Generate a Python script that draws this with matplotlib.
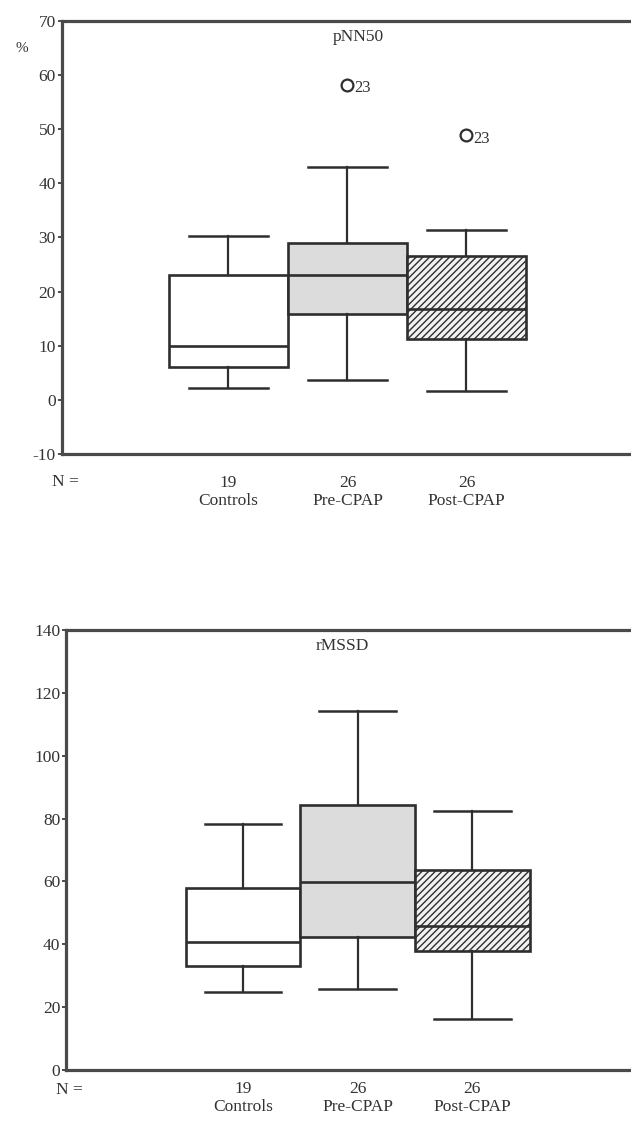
import matplotlib
matplotlib.use("Agg")
import matplotlib.pyplot as plt

plt.rcParams['font.family'] = ['Liberation Serif', 'DejaVu Serif']
plt.rcParams['hatch.color'] = '#7a7a7a'
plt.rcParams['hatch.linewidth'] = 1.0

groups = ["Controls", "Pre-CPAP", "Post-CPAP"]
counts = [19, 26, 26]

# pNN50 (%) : whisker low, Q1, median, Q3, whisker high
pnn50_whislo = [2.2, 3.6, 1.6]
pnn50_q1 = [6.0, 15.9, 11.2]
pnn50_med = [10.0, 23.1, 16.7]
pnn50_q3 = [23.1, 28.9, 26.5]
pnn50_whishi = [30.3, 43.0, 31.4]
pnn50_outliers = [[], [58.2], [48.9]]
pnn50_outlier_ids = [[], ["23"], ["23"]]

# rMSSD
rmssd_whislo = [24.9, 25.7, 16.2]
rmssd_q1 = [33.2, 42.4, 37.9]
rmssd_med = [40.8, 59.7, 45.9]
rmssd_q3 = [57.8, 84.3, 63.6]
rmssd_whishi = [78.3, 114.2, 82.4]
rmssd_outliers = [[], [], []]
rmssd_outlier_ids = [[], [], []]

fills = ['white', '#dcdcdc', '#f2f2f2']
hatches = [None, None, '/////']

W, H = 631, 1122
fig = plt.figure(figsize=(W / 100, H / 100), dpi=100)

edge = '#2e2e2e'
txt = '#333333'


def panel(rect, xlim, ylim, yticks, wl, q1, med, q3, wh, outl, oids, title, title_xy,
          xpad, npos):
    ax = fig.add_axes(rect)
    stats = []
    for i in range(3):
        stats.append(dict(whislo=wl[i], q1=q1[i], med=med[i], q3=q3[i], whishi=wh[i],
                          fliers=[]))
    bp = ax.bxp(stats, positions=[1, 2, 3], widths=1.0, patch_artist=True,
                showfliers=False, capwidths=0.67,
                boxprops=dict(linewidth=1.9, edgecolor=edge),
                medianprops=dict(color=edge, linewidth=1.9),
                whiskerprops=dict(color=edge, linewidth=1.6),
                capprops=dict(color=edge, linewidth=1.8))
    for b, f, h in zip(bp['boxes'], fills, hatches):
        b.set_facecolor(f)
        if h:
            b.set_hatch(h)
    for i in range(3):
        for v, lab in zip(outl[i], oids[i]):
            ax.plot([i + 1], [v], marker='o', ms=8.5, mfc='none', mec=edge, mew=1.6,
                    linestyle='none')
            ax.annotate(lab, (i + 1, v), xytext=(5, -8.5), textcoords='offset points',
                        fontsize=12, color=txt, va='bottom', ha='left')
    ax.set_xlim(*xlim)
    ax.set_ylim(*ylim)
    ax.set_yticks(yticks)
    ax.set_yticklabels([str(t) for t in yticks])
    ax.tick_params(axis='y', direction='out', length=3, width=1.2, pad=1.5,
                   labelsize=12.5, labelcolor=txt, color=edge)
    ax.set_xticks([1, 2, 3])
    ax.set_xticklabels([f"{c}\n{g}" for c, g in zip(counts, groups)])
    ax.tick_params(axis='x', length=0, pad=xpad, labelsize=12.5, labelcolor=txt)
    for lbl in ax.get_xticklabels():
        lbl.set_linespacing(1.15)
    for s in ax.spines.values():
        s.set_linewidth(2.3)
        s.set_color('#4a4a4a')
    ax.text(title_xy[0], title_xy[1], title, ha='center', va='center', fontsize=12.5,
            color=txt)
    fig.text(npos[0] / W, 1 - npos[1] / H, "N =", ha='left', va='center',
             fontsize=12.5, color=txt)
    return ax


ax1 = panel([62 / W, 1 - 454 / H, 588 / W, (454 - 20.7) / H],
            (-0.399, 4.542), (-10, 70), list(range(-10, 71, 10)),
            pnn50_whislo, pnn50_q1, pnn50_med, pnn50_q3, pnn50_whishi,
            pnn50_outliers, pnn50_outlier_ids, "pNN50", (2.09, 67.0), 15, (52, 482))
fig.text(22 / W, 1 - 48 / H, "%", ha='center', va='center', fontsize=11, color=txt)

ax2 = panel([66.4 / W, 1 - 1070 / H, 584 / W, 440 / H],
            (-0.542, 4.555), (0, 140), list(range(0, 141, 20)),
            rmssd_whislo, rmssd_q1, rmssd_med, rmssd_q3, rmssd_whishi,
            rmssd_outliers, rmssd_outlier_ids, "rMSSD", (1.865, 134.9), 8, (56, 1090))

fig.savefig("out.png", dpi=100, facecolor='white')
